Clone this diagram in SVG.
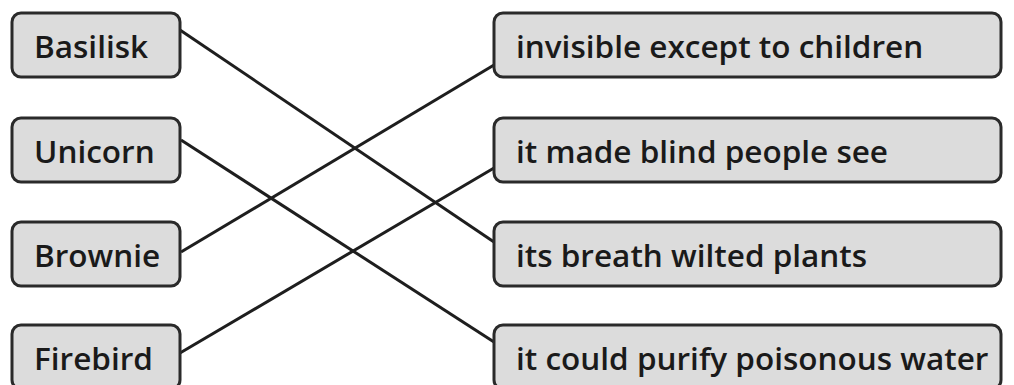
<svg xmlns="http://www.w3.org/2000/svg" width="1014" height="385" viewBox="0 0 1014 385">
<style>
.box{fill:#dcdcdc;stroke:#2a2a2a;stroke-width:3}
.t{font-family:"Open Sans","Noto Sans",sans-serif;font-size:31.5px;font-weight:600;fill:#1a1a1a}
.c{stroke:#1e1e1e;stroke-width:3;fill:none}
</style>
<rect width="1014" height="385" fill="#fff"/>
<g id="connectors">
<line class="c" x1="180" y1="30" x2="494" y2="242"/>
<line class="c" x1="181" y1="140" x2="494" y2="342"/>
<line class="c" x1="181" y1="252" x2="494" y2="65"/>
<line class="c" x1="180" y1="353" x2="494" y2="168"/>
</g>
<g id="n-basilisk"><rect class="box" x="12" y="13" width="168" height="64" rx="9"/><text class="t" x="34" y="58">Basilisk</text></g>
<g id="n-unicorn"><rect class="box" x="12" y="118" width="168" height="64" rx="9"/><text class="t" x="34" y="163">Unicorn</text></g>
<g id="n-brownie"><rect class="box" x="12" y="222" width="168" height="64" rx="9"/><text class="t" x="34" y="267">Brownie</text></g>
<g id="n-firebird"><rect class="box" x="12" y="325" width="168" height="64" rx="9"/><text class="t" x="34" y="370">Firebird</text></g>
<g id="n-invisible"><rect class="box" x="494" y="13" width="507" height="64" rx="9"/><text class="t" x="516" y="58">invisible except to children</text></g>
<g id="n-blind"><rect class="box" x="494" y="118" width="507" height="64" rx="9"/><text class="t" x="516" y="163">it made blind people see</text></g>
<g id="n-breath"><rect class="box" x="494" y="222" width="507" height="64" rx="9"/><text class="t" x="516" y="267">its breath wilted plants</text></g>
<g id="n-purify"><rect class="box" x="494" y="325" width="507" height="64" rx="9"/><text class="t" x="516" y="370">it could purify poisonous water</text></g>
</svg>
